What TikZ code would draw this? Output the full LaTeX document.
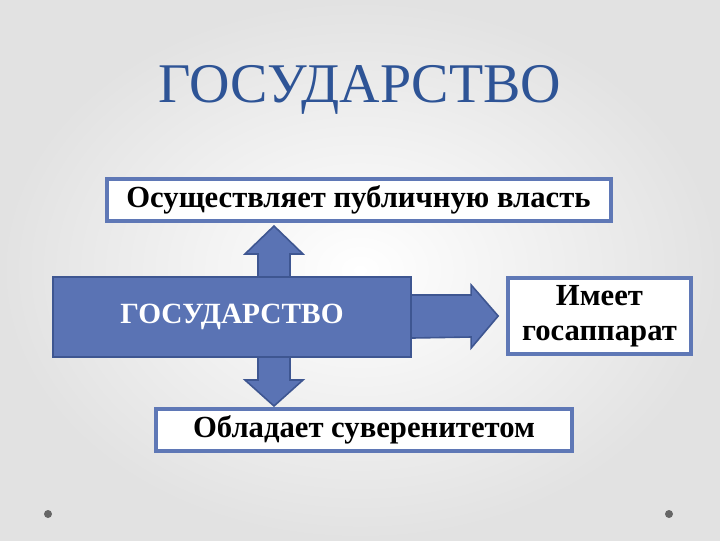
\documentclass[tikz,border=0pt]{standalone}
\usepackage{fontspec}
\setmainfont{Liberation Serif}
\usetikzlibrary{calc}
\definecolor{titleblue}{RGB}{46,84,150}
\definecolor{boxblue}{RGB}{90,115,180}
\definecolor{edgeblue}{RGB}{62,86,145}
\definecolor{frameblue}{RGB}{95,120,182}
\definecolor{bgedge}{RGB}{226,226,226}

\begin{document}
\begin{tikzpicture}[x=0.75pt,y=0.75pt,yscale=-1,
    whitebox/.style={draw=frameblue,line width=3pt,fill=white,inner sep=0pt,
      font=\fontsize{23}{26}\selectfont\bfseries,align=center},
    mainbox/.style={draw=edgeblue,line width=1.5pt,fill=boxblue,inner sep=0pt,
      text=white,font=\fontsize{22}{26}\selectfont\bfseries},
    fatarrow/.style={draw=edgeblue,line width=1.2pt,fill=boxblue,line join=miter}]
    \useasboundingbox (0,0) rectangle (720,540);
    %Background
    \shade[inner color=white,outer color=bgedge] (0,0) rectangle (720,540);
    \fill[gray!80!black] (48,514) circle (3pt);
    \fill[gray!80!black] (669,514) circle (3pt);

    % Title
    \node (title) at (360,90) [text=titleblue,font=\fontsize{42}{50}\selectfont] {ГОСУДАРСТВО};

    % Boxes
    \node (power) at (358.5,200) [whitebox,minimum width=378pt,minimum height=31.5pt] {Осуществляет публичную власть};
    \node (sover) at (364,430) [whitebox,minimum width=312pt,minimum height=31.5pt] {Обладает суверенитетом};
    \node (staff) at (599.5,316) [whitebox,minimum width=137pt,minimum height=57pt] {Имеет\\госаппарат};

    % Up/down arrow behind the main box
    \coordinate (up) at ($(power.south)+(-84.5,3)$);
    \coordinate (dn) at ($(sover.north)+(-90,-1)$);
    \draw[fatarrow] (up) -- ($(up)+(29,28)$) -- ($(up)+(16,28)$) -- ($(dn)+(16,-26)$)
      -- ($(dn)+(29,-26)$) -- (dn) -- ($(dn)+(-29,-26)$) -- ($(dn)+(-16,-26)$)
      -- ($(up)+(-16,28)$) -- ($(up)+(-29,28)$) -- cycle;

    % Main box
    \node (state) at (232,317) [mainbox,minimum width=268.5pt,minimum height=60pt] {ГОСУДАРСТВО};

    % Right arrow
    \coordinate (rt) at ($(staff.west)+(-8,0)$);
    \draw[fatarrow] ($(state.east)+(0,-22)$) -- ($(rt)+(-27,-21)$) -- ($(rt)+(-27,-31)$) -- (rt)
      -- ($(rt)+(-27,32)$) -- ($(rt)+(-27,21)$) -- ($(state.east)+(0,21)$);
\end{tikzpicture}
\end{document}
